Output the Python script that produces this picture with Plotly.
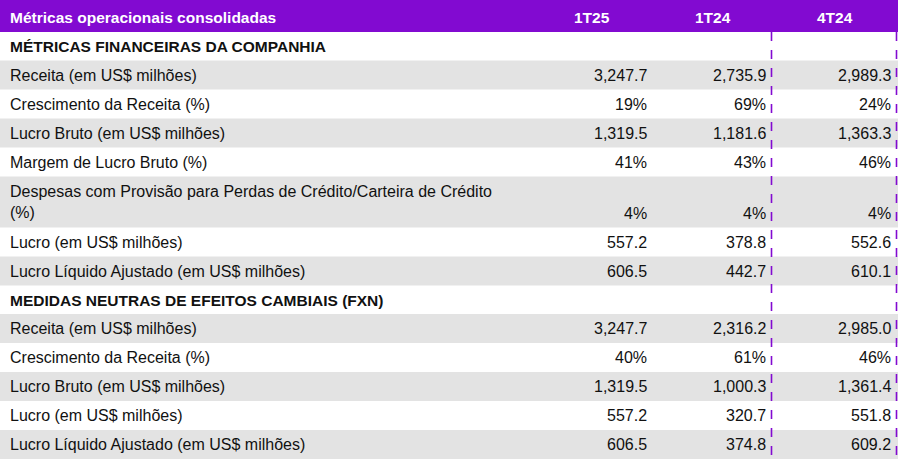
import plotly.graph_objects as go

title = "Métricas operacionais consolidadas"
periods = ["1T25", "1T24", "4T24"]
sections = ["MÉTRICAS FINANCEIRAS DA COMPANHIA", "MEDIDAS NEUTRAS DE EFEITOS CAMBIAIS (FXN)"]
labels_fin = ["Receita (em US$ milhões)", "Crescimento da Receita (%)", "Lucro Bruto (em US$ milhões)",
              "Margem de Lucro Bruto (%)",
              "Despesas com Provisão para Perdas de Crédito/Carteira de Crédito<br>(%)",
              "Lucro (em US$ milhões)", "Lucro Líquido Ajustado (em US$ milhões)"]
fin_1T25 = ["3,247.7", "19%", "1,319.5", "41%", "4%", "557.2", "606.5"]
fin_1T24 = ["2,735.9", "69%", "1,181.6", "43%", "4%", "378.8", "442.7"]
fin_4T24 = ["2,989.3", "24%", "1,363.3", "46%", "4%", "552.6", "610.1"]
labels_fxn = ["Receita (em US$ milhões)", "Crescimento da Receita (%)", "Lucro Bruto (em US$ milhões)",
              "Lucro (em US$ milhões)", "Lucro Líquido Ajustado (em US$ milhões)"]
fxn_1T25 = ["3,247.7", "40%", "1,319.5", "557.2", "606.5"]
fxn_1T24 = ["2,316.2", "61%", "1,000.3", "320.7", "374.8"]
fxn_4T24 = ["2,985.0", "46%", "1,361.4", "551.8", "609.2"]

PURPLE = "#820AD1"
GRAY = "#E3E3E3"
FONT = "Liberation Sans, Arial, sans-serif"
W, H = 902, 463
HEAD_H = 32
ROW_H = 29
TALL_H = 51
X_RIGHT = 898
VAL_X = [649, 768, 893]
HEAD_X = [592, 713, 835]

shapes, ann = [], []
def txt(x, y, s, anchor="left", bold=False, color="#111", size=16):
    ann.append(dict(x=x, y=y, xref="x", yref="y", text=f"<b>{s}</b>" if bold else s,
                    showarrow=False, xanchor=anchor, yanchor="middle",
                    font=dict(family=FONT, size=size, color=color), align="left"))

shapes.append(dict(type="rect", x0=0, x1=X_RIGHT, y0=0, y1=HEAD_H, fillcolor=PURPLE, line_width=0, layer="below"))
txt(8, HEAD_H/2 + 1, title, bold=True, color="white", size=15.5)
for hx, p in zip(HEAD_X, periods):
    txt(hx, HEAD_H/2 + 1, p, anchor="center", bold=True, color="white", size=15.5)

y = HEAD_H
def section(name):
    global y
    txt(8, y + 14.5, name, bold=True, size=15.5)
    y += 28.5
def rows(labels, cols):
    global y
    for i, lab in enumerate(labels):
        h = TALL_H if "<br>" in lab else ROW_H
        if i % 2 == 0:
            shapes.append(dict(type="rect", x0=0, x1=X_RIGHT, y0=y, y1=y + h, fillcolor=GRAY, line_width=0, layer="below"))
        txt(8, y + h/2, lab)
        vy = y + h/2 + (11 if h != ROW_H else 0)
        for vx, col in zip(VAL_X, cols):
            txt(vx, vy, col[i], anchor="right")
        y += h

section(sections[0])
rows(labels_fin, [fin_1T25, fin_1T24, fin_4T24])
section(sections[1])
rows(labels_fxn, [fxn_1T25, fxn_1T24, fxn_4T24])

for lx in [771.5, 896.5]:
    shapes.append(dict(type="line", x0=lx, x1=lx, y0=HEAD_H, y1=y, line=dict(color=PURPLE, width=1.6, dash="dash")))

fig = go.Figure()
fig.update_layout(width=W, height=H, margin=dict(l=0, r=0, t=0, b=0),
                  paper_bgcolor="white", plot_bgcolor="white",
                  xaxis=dict(range=[0, W], visible=False, fixedrange=True),
                  yaxis=dict(range=[H, 0], visible=False, fixedrange=True),
                  shapes=shapes, annotations=ann, showlegend=False)
fig.write_html("out.html", config={"displayModeBar": False},
               post_script="document.body.style.margin='0';document.body.style.overflow='hidden';")
